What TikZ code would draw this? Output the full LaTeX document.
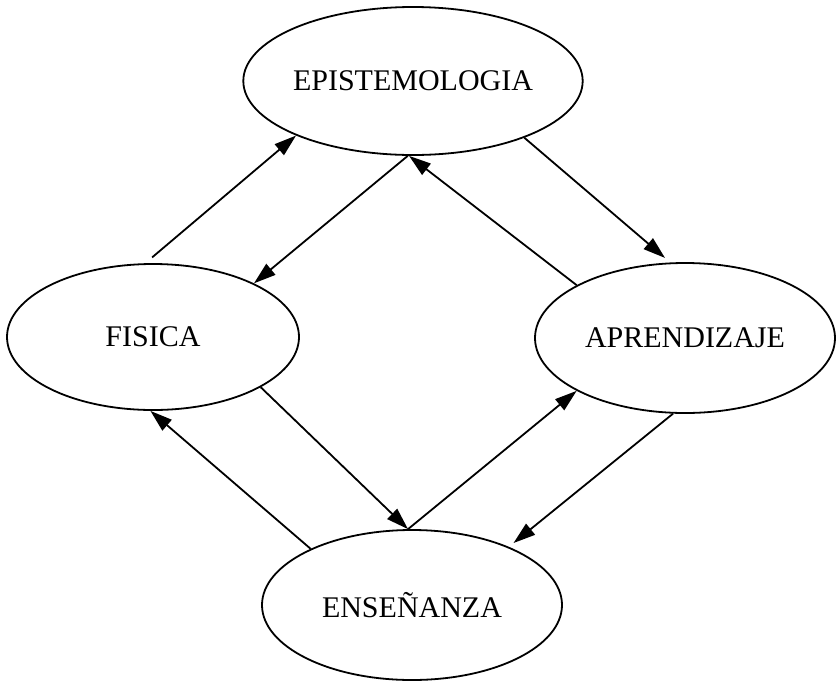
\documentclass[tikz,border=0pt]{standalone}
\usepackage{fontspec}
\setmainfont{Liberation Serif}
\usetikzlibrary{shapes.geometric,arrows.meta}
\begin{document}
\begin{tikzpicture}[x=1pt,y=-1pt,
  concept/.style={ellipse,draw,line width=1.8pt,inner sep=0pt,minimum width=298pt,minimum height=148pt,font=\fontsize{30}{36}\selectfont},
  link/.style={line width=1.8pt,-{Triangle[length=22pt,width=14pt]}}]
\useasboundingbox (0,0) rectangle (836,681);
\node[concept] (epi) at (413,81) {EPISTEMOLOGIA};
\node[concept,minimum width=292pt,minimum height=146pt] (fis) at (153,337) {FISICA};
\node[concept,minimum width=300pt,minimum height=150pt] (apr) at (685,338) {APRENDIZAJE};
\node[concept,minimum width=300pt,minimum height=150pt] (ens) at (412,605) {ENSEÑANZA};
\draw[link,shorten <=9pt] (fis.96) -- (epi.205);
\draw[link] (epi.266) -- (fis.28);
\draw[link,shorten >=7pt] (epi.333) -- (apr.101);
\draw[link] (apr.154) -- (epi.267);
\draw[link] (fis.335) -- (ens.93);
\draw[link] (ens.151) -- (fis.268);
\draw[link] (ens.93) -- (apr.206);
\draw[link,shorten >=6pt] (apr.261) -- (ens.31);
\end{tikzpicture}
\end{document}
